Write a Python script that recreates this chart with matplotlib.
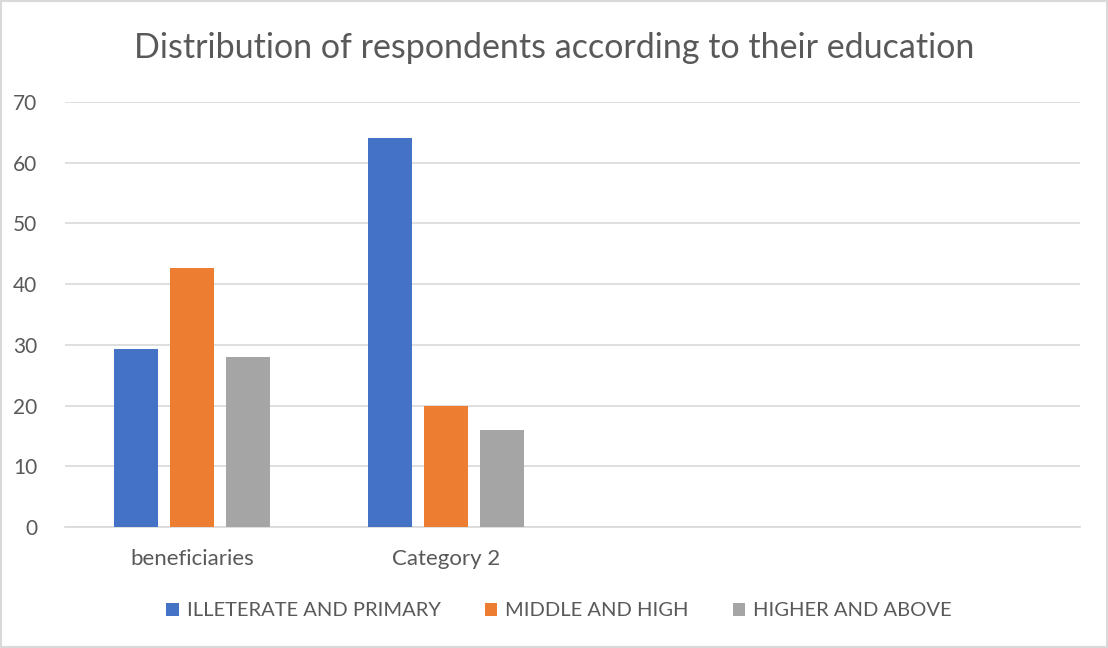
import numpy as np
import matplotlib.pyplot as plt

# Survey results by education level
categories = ['beneficiaries', 'Category 2', '', '']
illiterate_primary = [29.3, 64, np.nan, np.nan]
middle_high = [42.6, 20, np.nan, np.nan]
higher_above = [28.0, 16, np.nan, np.nan]
series_names = ['ILLETERATE AND PRIMARY', 'MIDDLE AND HIGH', 'HIGHER AND ABOVE']
yticks = [0, 10, 20, 30, 40, 50, 60, 70]

colors = ['#4472C4', '#ED7D31', '#A5A5A5']
text_color = '#595959'
plt.rcParams['font.family'] = ['Lato', 'DejaVu Sans']

fig = plt.figure(figsize=(11.08, 6.48), dpi=100)
ax = fig.add_axes([65 / 1108, 1 - 527 / 648, 1015 / 1108, 425 / 648])

x = np.arange(len(categories))
bar_w = 44 / 254
step = 56 / 254
for i, (vals, name) in enumerate(zip([illiterate_primary, middle_high, higher_above], series_names)):
    ax.bar(x + (i - 1) * step, vals, width=bar_w, color=colors[i], label=name, zorder=3)

ax.set_xlim(-0.5, len(categories) - 0.5)
ax.set_ylim(0, 70)
ax.set_yticks(yticks)
ax.set_xticks(x)
ax.set_xticklabels(categories)
ax.grid(axis='y', color='#D9D9D9', linewidth=1.2, zorder=0)
for side in ['top', 'right', 'left']:
    ax.spines[side].set_visible(False)
ax.spines['bottom'].set_color('#D9D9D9')
ax.spines['bottom'].set_linewidth(1.2)
ax.tick_params(axis='both', length=0, colors=text_color)
ax.tick_params(axis='y', pad=20, labelsize=15)
ax.tick_params(axis='x', pad=16, labelsize=16)

fig.text(0.5, 1 - 48 / 648, 'Distribution of respondents according to their education',
         ha='center', va='center', fontsize=24.5, color=text_color)

leg = fig.legend(loc='center', bbox_to_anchor=(0.5045, 1 - 611 / 648), ncol=3, frameon=False,
                 fontsize=14.5, handlelength=0.6, handleheight=0.6, handletextpad=0.4,
                 columnspacing=2.2, labelcolor=text_color)

# light border around the whole chart
fig.patches.append(plt.Rectangle((0.001, 0.001), 0.998, 0.997, transform=fig.transFigure,
                                 fill=False, edgecolor='#D9D9D9', linewidth=1.5))

fig.savefig('out.png', dpi=100)
